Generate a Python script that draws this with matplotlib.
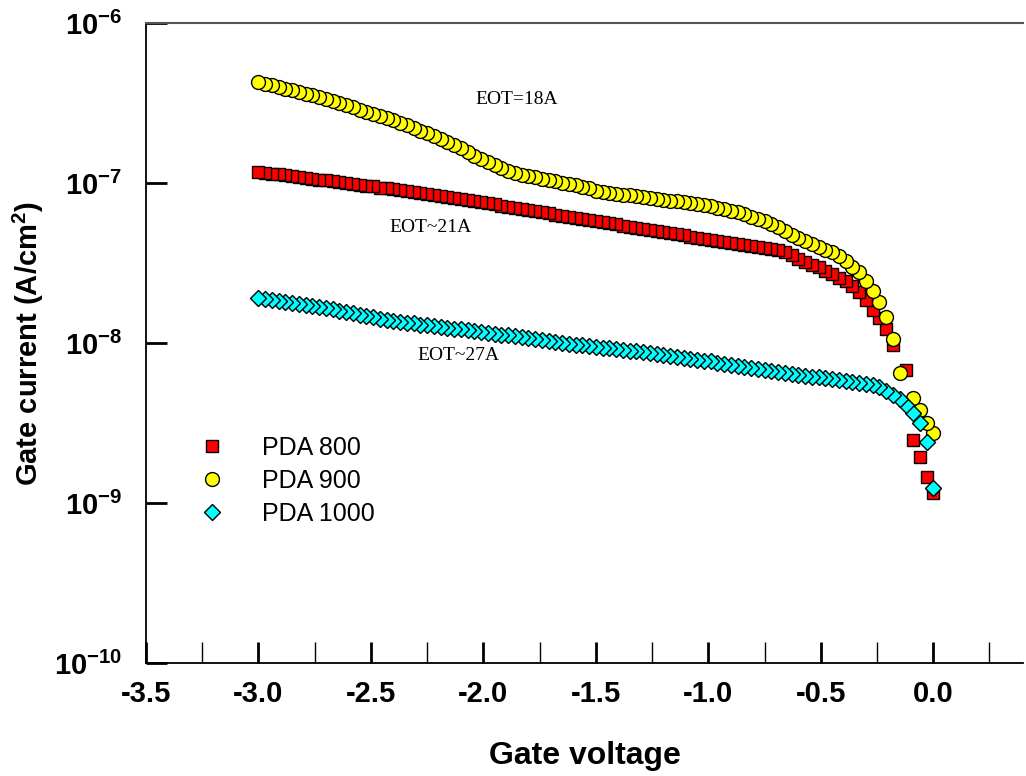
import numpy as np
import matplotlib.pyplot as plt
from matplotlib.ticker import FixedLocator, FuncFormatter, NullLocator

plt.rcParams['font.family'] = ['Liberation Sans', 'DejaVu Sans']
plt.rcParams['mathtext.fontset'] = 'custom'
plt.rcParams['mathtext.rm'] = 'Liberation Sans'
plt.rcParams['mathtext.bf'] = 'Liberation Sans:bold'

# Gate voltage sweep (V)
voltage = [
    -3.00, -2.97, -2.94, -2.91, -2.88, -2.85, -2.82, -2.79, -2.76, -2.73,
    -2.70, -2.67, -2.64, -2.61, -2.58, -2.55, -2.52, -2.49, -2.46, -2.43,
    -2.40, -2.37, -2.34, -2.31, -2.28, -2.25, -2.22, -2.19, -2.16, -2.13,
    -2.10, -2.07, -2.04, -2.01, -1.98, -1.95, -1.92, -1.89, -1.86, -1.83,
    -1.80, -1.77, -1.74, -1.71, -1.68, -1.65, -1.62, -1.59, -1.56, -1.53,
    -1.50, -1.47, -1.44, -1.41, -1.38, -1.35, -1.32, -1.29, -1.26, -1.23,
    -1.20, -1.17, -1.14, -1.11, -1.08, -1.05, -1.02, -0.99, -0.96, -0.93,
    -0.90, -0.87, -0.84, -0.81, -0.78, -0.75, -0.72, -0.69, -0.66, -0.63,
    -0.60, -0.57, -0.54, -0.51, -0.48, -0.45, -0.42, -0.39, -0.36, -0.33,
    -0.30, -0.27, -0.24, -0.21, -0.18, -0.15, -0.12, -0.09, -0.06, -0.03,
    0.00,
]

# PDA 800, x1e-7 A/cm2
pda800 = [
    1.180, 1.165, 1.151, 1.137, 1.123, 1.109, 1.095, 1.082, 1.068, 1.055,
    1.042, 1.029, 1.017, 1.004, 0.992, 0.980, 0.968, 0.955, 0.941, 0.928,
    0.915, 0.902, 0.890, 0.877, 0.865, 0.853, 0.841, 0.829, 0.818, 0.806,
    0.795, 0.784, 0.773, 0.762, 0.750, 0.738, 0.726, 0.714, 0.703, 0.692,
    0.680, 0.669, 0.659, 0.648, 0.638, 0.627, 0.617, 0.607, 0.598, 0.588,
    0.579, 0.570, 0.561, 0.553, 0.544, 0.536, 0.527, 0.519, 0.511, 0.503,
    0.495, 0.488, 0.480, 0.473, 0.465, 0.458, 0.451, 0.444, 0.438, 0.431,
    0.425, 0.419, 0.413, 0.407, 0.401, 0.395, 0.389, 0.383, 0.372, 0.355,
    0.336, 0.322, 0.310, 0.299, 0.285, 0.270, 0.257, 0.245, 0.228, 0.209,
    0.187, 0.162, 0.143, 0.123, 0.097, np.nan, 0.068, 0.0249, 0.0195, 0.0146,
    0.0116,
]

# PDA 900, x1e-7 A/cm2
pda900 = [
    4.30, 4.20, 4.10, 4.00, 3.91, 3.82, 3.73, 3.63, 3.54, 3.44,
    3.35, 3.27, 3.17, 3.08, 2.99, 2.89, 2.79, 2.71, 2.63, 2.55,
    2.47, 2.39, 2.30, 2.22, 2.13, 2.05, 1.97, 1.89, 1.81, 1.73,
    1.65, 1.57, 1.49, 1.42, 1.36, 1.30, 1.24, 1.19, 1.16, 1.13,
    1.11, 1.09, 1.07, 1.05, 1.03, 1.01, 0.99, 0.97, 0.95, 0.93,
    0.90, 0.88, 0.87, 0.86, 0.85, 0.84, 0.83, 0.82, 0.81, 0.80,
    0.79, 0.78, 0.77, 0.76, 0.75, 0.74, 0.73, 0.72, 0.70, 0.69,
    0.67, 0.66, 0.64, 0.62, 0.60, 0.58, 0.56, 0.53, 0.50, 0.475,
    0.455, 0.435, 0.42, 0.40, 0.385, 0.37, 0.35, 0.325, 0.30, 0.278,
    0.245, 0.212, 0.182, 0.147, 0.107, 0.065, np.nan, 0.0455, 0.0383, 0.0318,
    0.0275,
]

# PDA 1000, x1e-8 A/cm2
pda1000 = [
    1.92, 1.89, 1.86, 1.83, 1.80, 1.78, 1.75, 1.73, 1.70, 1.68,
    1.66, 1.63, 1.60, 1.57, 1.54, 1.51, 1.48, 1.45, 1.41, 1.395,
    1.38, 1.36, 1.345, 1.33, 1.31, 1.295, 1.28, 1.265, 1.25, 1.235,
    1.22, 1.205, 1.19, 1.18, 1.165, 1.15, 1.135, 1.12, 1.105, 1.09,
    1.075, 1.06, 1.045, 1.03, 1.015, 1.00, 0.99, 0.98, 0.97, 0.96,
    0.95, 0.94, 0.93, 0.92, 0.91, 0.90, 0.89, 0.88, 0.87, 0.86,
    0.84, 0.83, 0.82, 0.81, 0.80, 0.79, 0.78, 0.77, 0.755, 0.745,
    0.735, 0.72, 0.71, 0.70, 0.69, 0.68, 0.67, 0.66, 0.652, 0.645,
    0.635, 0.628, 0.62, 0.612, 0.605, 0.598, 0.59, 0.582, 0.574, 0.566,
    0.557, 0.548, 0.535, 0.50, 0.475, 0.449, 0.411, 0.366, 0.317, 0.242,
    0.125,
]

labels = ['PDA 800', 'PDA 900', 'PDA 1000']
notes = [('EOT=18A', -1.853, 3.32e-7), ('EOT~21A', -2.236, 5.26e-8), ('EOT~27A', -2.111, 8.45e-9)]

v = np.array(voltage)
series = [np.array(pda800) * 1e-7, np.array(pda900) * 1e-7, np.array(pda1000) * 1e-8]
styles = [('s', '#ff0000', 9.0), ('o', '#ffff00', 10.0), ('D', '#00ffff', 8.2)]

fig = plt.figure(figsize=(10.26, 7.76), dpi=100)
ax = fig.add_axes([0.1423, 0.1452, 0.855, 0.8248])

# drawn from 0 V toward -3 V so the left-hand markers sit on top
for y, (m, c, ms), lab in zip(series, styles, labels):
    ax.plot(v[::-1], y[::-1], linestyle='none', marker=m, markersize=ms,
            markerfacecolor=c, markeredgecolor='black', markeredgewidth=1.0, label=lab)

ax.set_yscale('log')
ax.set_xlim(-3.5, 0.4)
ax.set_ylim(1e-10, 1e-6)

ax.xaxis.set_major_locator(FixedLocator([-3.5, -3.0, -2.5, -2.0, -1.5, -1.0, -0.5, 0.0]))
ax.xaxis.set_minor_locator(FixedLocator([-3.25, -2.75, -2.25, -1.75, -1.25, -0.75, -0.25, 0.25]))
ax.xaxis.set_major_formatter(FuncFormatter(lambda x, p: f'{x:.1f}'))
ax.yaxis.set_major_locator(FixedLocator([1e-10, 1e-9, 1e-8, 1e-7, 1e-6]))
ax.yaxis.set_minor_locator(NullLocator())
ax.yaxis.set_major_formatter(FuncFormatter(lambda y, p: r'$\mathbf{10^{%d}}$' % round(np.log10(y))))

ax.tick_params(axis='x', which='major', direction='in', length=15, width=2.0, pad=12,
               labelsize=21, top=False)
ax.tick_params(axis='x', which='minor', direction='in', length=15, width=1.0, top=False)
ax.tick_params(axis='y', which='major', direction='in', length=15, width=2.0, pad=17,
               labelsize=21, right=False)
for t in ax.get_xticklabels():
    t.set_fontweight('bold')

ax.spines['right'].set_visible(False)
ax.spines['top'].set_color('#555555')
ax.spines['top'].set_linewidth(1.5)
ax.spines['left'].set_linewidth(1.3)
ax.spines['bottom'].set_linewidth(1.3)

ax.set_xlabel('Gate voltage', fontsize=23, fontweight='bold')
ax.set_ylabel(r'Gate current (A/cm$^{\mathbf{2}}$)', fontsize=21, fontweight='bold')
ax.xaxis.set_label_coords(0.5, -0.122)
ax.yaxis.set_label_coords(-0.114, 0.5)

for txt, x, y in notes:
    ax.text(x, y, txt, fontsize=14, family='Liberation Serif', ha='center', va='center')

ax.legend(loc='center left', bbox_to_anchor=(0.0496, 0.285), frameon=False, fontsize=18,
          handlelength=1.0, handletextpad=1.5, labelspacing=0.36, borderpad=0.4,
          borderaxespad=0.0)

fig.savefig('out.png', dpi=100)
